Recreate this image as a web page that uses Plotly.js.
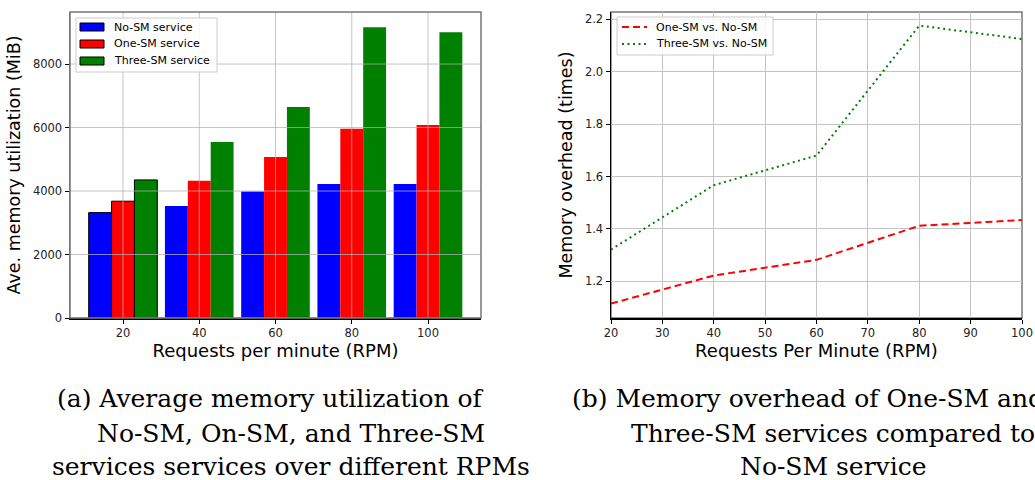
<!DOCTYPE html>
<html><head><meta charset="utf-8">
<script src="https://cdn.plot.ly/plotly-3.0.1.min.js"></script>
<style>body{margin:0;background:#fff}#c{width:1035px;height:480px}</style>
</head><body><div id="c"></div>
<script>
const rpm = [20, 40, 60, 80, 100];
const noSM = [3320, 3530, 3985, 4225, 4225];
const oneSM = [3680, 4320, 5075, 5965, 6080];
const threeSM = [4350, 5545, 6645, 9160, 9005];
const oneVsNo = [1.115, 1.222, 1.282, 1.412, 1.434];
const threeVsNo = [1.321, 1.567, 1.680, 2.176, 2.125];
const barYTicks = [0, 2000, 4000, 6000, 8000];
const lineXTicks = [20, 30, 40, 50, 60, 70, 80, 90, 100];
const lineYTicks = [1.2, 1.4, 1.6, 1.8, 2.0, 2.2];
const captionA = ["(a) Average memory utilization of", "No-SM, On-SM, and Three-SM", "services services over different RPMs"];
const captionB = ["(b) Memory overhead of One-SM and", "Three-SM services compared to", "No-SM service"];

const W = 1035, H = 480;
const sans = "DejaVu Sans, sans-serif";
const serif = "DejaVu Serif, Liberation Serif, serif";
const edge = rpm.map((v, i) => i === 0 ? 1 : 0);
function bar(name, y, color, off) {
  return {type: 'bar', name, x: rpm, y, width: 6, offset: off,
    marker: {color, line: {color: '#000', width: edge}}, xaxis: 'x', yaxis: 'y'};
}
const traces = [
  bar('No-SM service', noSM, '#0000ff', -9),
  bar('One-SM service', oneSM, '#ff0000', -3),
  bar('Three-SM service', threeSM, '#008000', 3),
  {type: 'scatter', mode: 'lines', name: 'One-SM vs. No-SM', x: rpm, y: oneVsNo,
    line: {color: '#ff0000', dash: '7px,4px', width: 2}, xaxis: 'x2', yaxis: 'y2', showlegend: false},
  {type: 'scatter', mode: 'lines', name: 'Three-SM vs. No-SM', x: rpm, y: threeVsNo,
    line: {color: '#008000', dash: '2px,3.5px', width: 2}, xaxis: 'x2', yaxis: 'y2', showlegend: false}
];

const gridCol = 'rgba(176,176,176,0.75)';
const shapes = [];
rpm.forEach(v => shapes.push({type: 'line', xref: 'x', yref: 'y domain', x0: v, x1: v, y0: 0, y1: 1, line: {color: gridCol, width: 1}, layer: 'above'}));
barYTicks.forEach(v => shapes.push({type: 'line', xref: 'x domain', yref: 'y', x0: 0, x1: 1, y0: v, y1: v, line: {color: gridCol, width: 1}, layer: 'above'}));
shapes.push({type: 'rect', xref: 'x domain', yref: 'y domain', x0: 0, x1: 1, y0: 0, y1: 1, line: {color: '#777', width: 1.5}, layer: 'above'});
shapes.push({type: 'rect', xref: 'x2 domain', yref: 'y2 domain', x0: 0, x1: 1, y0: 0, y1: 1, line: {color: '#777', width: 1.5}, layer: 'below'});

const tickFont = {family: sans, size: 11.5, color: '#222'};
const xTitleFont = {family: sans, size: 18, color: '#000'};
const yTitleFont = {family: sans, size: 17.5, color: '#000'};
const common = {ticks: 'outside', ticklen: 4, tickcolor: '#000', tickfont: tickFont, zeroline: false, showline: true, linewidth: 1.5};

const layout = {
  width: W, height: H, margin: {l: 0, r: 0, t: 12, b: 162},
  paper_bgcolor: '#fff', plot_bgcolor: '#fff', showlegend: false,
  barmode: 'overlay', bargap: 0,
  xaxis: Object.assign({}, common, {domain: [70/W, 481/W], range: [6.1, 113.9], tickvals: rpm, showgrid: false, linecolor: '#000',
    title: {text: 'Requests per minute (RPM)', font: xTitleFont, standoff: 2}}),
  yaxis: Object.assign({}, common, {domain: [0, 1], range: [0, 9640], tickvals: barYTicks, showgrid: false, linecolor: '#777',
    title: {text: 'Ave. memory utilization (MiB)', font: yTitleFont, standoff: 8}}),
  xaxis2: Object.assign({}, common, {domain: [611/W, 1022/W], range: [20, 100], tickvals: lineXTicks, showgrid: true, gridcolor: '#c4c4c4', linecolor: '#000', anchor: 'y2',
    title: {text: 'Requests Per Minute (RPM)', font: xTitleFont, standoff: 2}}),
  yaxis2: Object.assign({}, common, {domain: [0, 1], range: [1.06, 2.228], tickvals: lineYTicks, ticktext: lineYTicks.map(v => v.toFixed(1)), showgrid: true, gridcolor: '#c4c4c4', linecolor: '#000', anchor: 'x2',
    title: {text: 'Memory overhead (times)', font: yTitleFont, standoff: 8}}),
  shapes,
  annotations: []
};

const pyH = 306;
function py(y) { return 1 - (y - 12) / pyH; }
function px(x) { return x / W; }
function legendBox(x0, y0, x1, y1) {
  shapes.push({type: 'rect', xref: 'paper', yref: 'paper', x0: px(x0), x1: px(x1), y0: py(y0), y1: py(y1),
    line: {color: '#ccc', width: 1}, fillcolor: 'rgba(255,255,255,0.85)', layer: 'above'});
}
legendBox(76, 18, 217, 72);
const barNames = ['No-SM service', 'One-SM service', 'Three-SM service'];
const barCols = ['#0000ff', '#ff0000', '#008000'];
barNames.forEach((n, i) => {
  const yc = 27 + i * 17;
  shapes.push({type: 'rect', xref: 'paper', yref: 'paper', x0: px(80), x1: px(104), y0: py(yc - 4), y1: py(yc + 4),
    fillcolor: barCols[i], line: {color: '#000', width: 1}, layer: 'above'});
  layout.annotations.push({xref: 'paper', yref: 'paper', x: px(112), y: py(yc), xanchor: 'left', yanchor: 'middle',
    text: n, showarrow: false, font: {family: sans, size: 11, color: '#000'}});
});
legendBox(617, 17, 773, 55);
const lineNames = ['One-SM vs. No-SM', 'Three-SM vs. No-SM'];
const lineCols = ['#ff0000', '#008000'];
const lineDash = ['7px,4px', '2px,3.5px'];
lineNames.forEach((n, i) => {
  const yc = 27 + i * 17;
  shapes.push({type: 'line', xref: 'paper', yref: 'paper', x0: px(622), x1: px(647), y0: py(yc), y1: py(yc),
    line: {color: lineCols[i], width: 2, dash: lineDash[i]}, layer: 'above'});
  layout.annotations.push({xref: 'paper', yref: 'paper', x: px(654), y: py(yc), xanchor: 'left', yanchor: 'middle',
    text: n, showarrow: false, font: {family: sans, size: 11, color: '#000'}});
});

// captions
const capFont = {family: serif, size: 25, color: '#000'};
const capA_cx = [270, 291, 291];
const capB_cx = [808, 833, 833];
const capY = [398, 433, 466];
captionA.forEach((t, i) => layout.annotations.push({xref: 'paper', yref: 'paper', x: px(capA_cx[i]), y: py(capY[i]), xanchor: 'center', yanchor: 'middle', text: t, showarrow: false, font: capFont}));
captionB.forEach((t, i) => layout.annotations.push({xref: 'paper', yref: 'paper', x: px(capB_cx[i]), y: py(capY[i]), xanchor: 'center', yanchor: 'middle', text: t, showarrow: false, font: capFont}));

Plotly.newPlot('c', traces, layout, {staticPlot: true, displayModeBar: false});
</script></body></html>
